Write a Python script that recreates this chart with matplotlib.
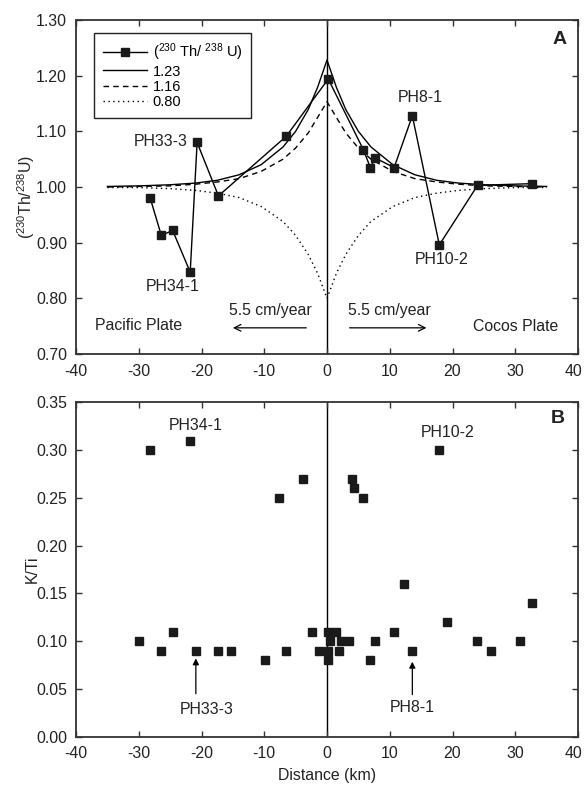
import matplotlib
matplotlib.use("Agg")
import matplotlib.pyplot as plt
import matplotlib.transforms as mtrans

plt.rcParams['font.family'] = ['Liberation Sans', 'DejaVu Sans']
plt.rcParams['mathtext.fontset'] = 'custom'
plt.rcParams['mathtext.rm'] = 'Liberation Sans'
plt.rcParams['mathtext.it'] = 'Liberation Sans'
plt.rcParams['font.size'] = 11.4

# Panel A: measured (230Th/238U) along the profile
th_x = [-28.2, -26.4, -24.6, -21.8, -20.7, -17.3, -6.5, 0.2, 5.8, 6.9, 7.7, 10.7, 13.6, 17.9, 24.0, 32.7]
th_y = [0.981, 0.913, 0.922, 0.847, 1.080, 0.984, 1.091, 1.194, 1.067, 1.035, 1.052, 1.035, 1.128, 0.896, 1.003, 1.006]

# Panel A: model curves
model_x = [-35, -30, -25, -21, -17.5, -14, -10.5, -7, -5, -3, -1.5, 0,
           1.5, 3, 5, 7, 10.5, 14, 17.5, 21, 25, 30, 35]
model_123 = [1.001, 1.002, 1.004, 1.007, 1.012, 1.022, 1.040, 1.072, 1.100, 1.139, 1.179, 1.228,
             1.179, 1.139, 1.100, 1.072, 1.040, 1.022, 1.012, 1.007, 1.004, 1.002, 1.001]
model_116 = [1.000, 1.001, 1.002, 1.005, 1.009, 1.015, 1.028, 1.050, 1.070, 1.097, 1.125, 1.153,
             1.125, 1.097, 1.070, 1.050, 1.028, 1.015, 1.009, 1.005, 1.002, 1.001, 1.000]
model_080 = [0.999, 0.999, 0.997, 0.994, 0.989, 0.981, 0.965, 0.938, 0.913, 0.879, 0.845, 0.800,
             0.845, 0.879, 0.913, 0.938, 0.965, 0.981, 0.989, 0.994, 0.997, 0.999, 0.999]
model_labels = ['1.23', '1.16', '0.80']

# Panel B: K/Ti
kti_x = [-28.2, -21.8, -7.65, -3.9, 4.0, 4.35, 5.8, 17.9,
         -29.9, -26.5, -24.6, -20.8, -17.35, -15.3, -9.9, -6.6,
         -2.45, -1.2, 0.1, 1.4, 0.4, 2.3, 3.5, 0.1, 1.9, 0.1,
         6.8, 7.6, 10.7, 12.3, 13.6, 19.2, 23.9, 26.1, 30.7, 32.7]
kti_y = [0.30, 0.31, 0.25, 0.27, 0.27, 0.26, 0.25, 0.30,
         0.10, 0.09, 0.11, 0.09, 0.09, 0.09, 0.08, 0.09,
         0.11, 0.09, 0.11, 0.11, 0.10, 0.10, 0.10, 0.09, 0.09, 0.08,
         0.08, 0.10, 0.11, 0.16, 0.09, 0.12, 0.10, 0.09, 0.10, 0.14]

xticks = [-40, -30, -20, -10, 0, 10, 20, 30, 40]
yticks_a = [0.70, 0.80, 0.90, 1.00, 1.10, 1.20, 1.30]
yticks_b = [0.00, 0.05, 0.10, 0.15, 0.20, 0.25, 0.30, 0.35]

W, H = 584, 789
fig = plt.figure(figsize=(W / 100, H / 100), dpi=100)
axA = fig.add_axes([76 / W, 1 - 354 / H, 502 / W, 334 / H])
axB = fig.add_axes([76 / W, 1 - 736.7 / H, 502 / W, 334.4 / H])

txt = '#222222'
mk = '#1a1a1a'
fs = 11.4

for ax in (axA, axB):
    ax.set_xlim(-40, 40)
    ax.set_xticks(xticks)
    ax.set_xticklabels([str(v) for v in xticks])
    ax.tick_params(direction='in', top=True, right=True, length=4, width=1,
                   colors='#333333', labelcolor=txt, labelsize=fs)
    ax.tick_params(axis='y', pad=6.5)
    ax.tick_params(axis='x', pad=7)
    for s in ax.spines.values():
        s.set_linewidth(1.3)
        s.set_color('#333333')
    ax.axvline(0, color='black', lw=1.0, zorder=1)
    last = ax.get_xticklabels()[-1]
    last.set_transform(last.get_transform() +
                       mtrans.ScaledTranslation(-3 / 72, 0, fig.dpi_scale_trans))

# Panel A
axA.set_ylim(0.70, 1.30)
axA.set_yticks(yticks_a)
axA.set_yticklabels(['%.2f' % v for v in yticks_a])
l0, = axA.plot(th_x, th_y, '-', color='black', lw=1.0, marker='s', ms=6,
               mfc=mk, mec=mk, zorder=4)
l1, = axA.plot(model_x, model_123, '-', color='black', lw=1.0, zorder=3)
l2, = axA.plot(model_x, model_116, color='black', lw=1.0, dashes=(4, 3), zorder=3)
l3, = axA.plot(model_x, model_080, color='black', lw=1.0, dashes=(1, 2.5), zorder=3)
leg = axA.legend([l0, l1, l2, l3],
                 [r'($^{230}$ Th/ $^{238}$ U)'] + model_labels,
                 loc='upper left', bbox_to_anchor=(0.0365, 0.962),
                 borderaxespad=0, handlelength=3.0, labelspacing=0.1,
                 borderpad=0.6, handletextpad=0.4, fancybox=False,
                 framealpha=1, edgecolor='#222222', fontsize=10.5)
leg.get_frame().set_linewidth(1.0)
axA.set_ylabel(r'($^{230}$Th/$^{238}$U)', fontsize=fs, color=txt)
axA.yaxis.set_label_coords(-0.078, 0.47)

axA.text(-22.2, 1.082, 'PH33-3', ha='right', va='center', fontsize=fs, color=txt)
axA.text(-24.6, 0.822, 'PH34-1', ha='center', va='center', fontsize=fs, color=txt)
axA.text(14.9, 1.1615, 'PH8-1', ha='center', va='center', fontsize=fs, color=txt)
axA.text(18.2, 0.870, 'PH10-2', ha='center', va='center', fontsize=fs, color=txt)
axA.text(-9.1, 0.778, '5.5 cm/year', ha='center', va='center', fontsize=fs, color=txt)
axA.text(10.0, 0.778, '5.5 cm/year', ha='center', va='center', fontsize=fs, color=txt)
axA.text(-37.0, 0.751, 'Pacific Plate', ha='left', va='center', fontsize=fs, color=txt)
axA.text(36.8, 0.750, 'Cocos Plate', ha='right', va='center', fontsize=fs, color=txt)
axA.annotate('', xy=(-15.0, 0.747), xytext=(-3.3, 0.747),
             arrowprops=dict(arrowstyle='->', lw=0.9, color='black',
                             mutation_scale=12, shrinkA=0, shrinkB=0))
axA.annotate('', xy=(15.85, 0.747), xytext=(3.6, 0.747),
             arrowprops=dict(arrowstyle='->', lw=0.9, color='black',
                             mutation_scale=12, shrinkA=0, shrinkB=0))
axA.text(37.0, 1.265, 'A', ha='center', va='center', fontsize=14, fontweight='bold', color=txt)

# Panel B
axB.set_ylim(0.0, 0.35)
axB.set_yticks(yticks_b)
axB.set_yticklabels(['%.2f' % v for v in yticks_b])
axB.plot(kti_x, kti_y, 's', ms=6, mfc=mk, mec=mk, ls='none', zorder=4)
axB.set_ylabel('K/Ti', fontsize=fs, color=txt)
axB.yaxis.set_label_coords(-0.072, 0.5)
axB.set_xlabel('Distance (km)', fontsize=fs, color=txt)
axB.xaxis.set_label_coords(0.5, -0.094)

axB.text(-21.0, 0.326, 'PH34-1', ha='center', va='center', fontsize=fs, color=txt)
axB.text(19.3, 0.318, 'PH10-2', ha='center', va='center', fontsize=fs, color=txt)
axB.text(-19.1, 0.028, 'PH33-3', ha='center', va='center', fontsize=fs, color=txt)
axB.text(13.6, 0.031, 'PH8-1', ha='center', va='center', fontsize=fs, color=txt)
axB.annotate('', xy=(-20.9, 0.082), xytext=(-20.9, 0.045),
             arrowprops=dict(arrowstyle='-|>', lw=0.9, color='black',
                             mutation_scale=9, shrinkA=0, shrinkB=0))
axB.annotate('', xy=(13.6, 0.0785), xytext=(13.6, 0.044),
             arrowprops=dict(arrowstyle='-|>', lw=0.9, color='black',
                             mutation_scale=9, shrinkA=0, shrinkB=0))
axB.text(36.8, 0.333, 'B', ha='center', va='center', fontsize=14, fontweight='bold', color=txt)

fig.savefig('out.png', dpi=100)
